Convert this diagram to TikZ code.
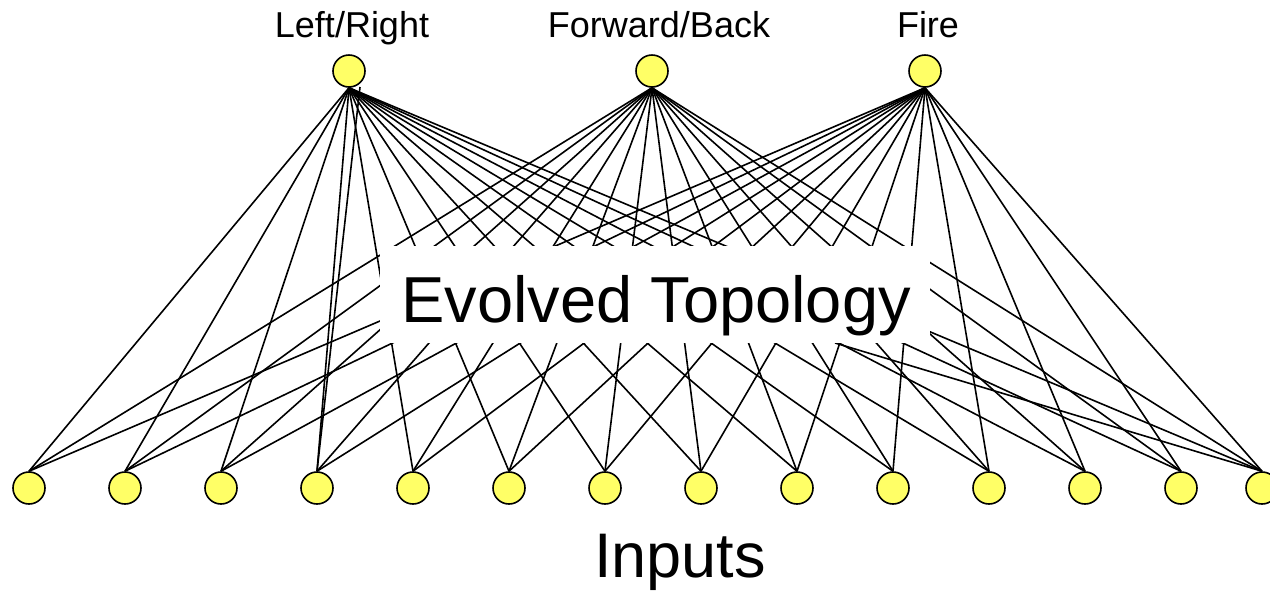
\documentclass[tikz,border=0pt]{standalone}
\usepackage{fontspec}
\setmainfont{Liberation Sans}
\pgfdeclarelayer{bg}
\pgfdeclarelayer{mid}
\pgfsetlayers{bg,mid,main}
\definecolor{nodeyellow}{HTML}{FFFF66}
\begin{document}
\begin{tikzpicture}[x=1pt,y=-1pt,
  neuron/.style={circle,draw=black,line width=1.6pt,fill=nodeyellow,minimum size=32pt,inner sep=0pt},
  link/.style={line width=1.6pt,black},
  toplabel/.style={anchor=base,font=\fontsize{36}{40}\selectfont,inner sep=0pt},
  biglabel/.style={anchor=base,font=\fontsize{65}{70}\selectfont,inner sep=0pt}]
\useasboundingbox (0,0) rectangle (1270,590);
% output nodes
\node[neuron] (o1) at (349,71) {};
\node[neuron] (o2) at (652,71) {};
\node[neuron] (o3) at (925,71) {};
\node[toplabel] (l1) at (352,37) {Left/Right};
\node[toplabel] (l2) at (659,37) {Forward/Back};
\node[toplabel] (l3) at (928,37) {Fire};
% input nodes
\foreach \i in {0,...,12} {
  \node[neuron] (b\i) at ({29+96*\i},488) {};
}
\node[neuron] (b13) at (1262,488) {};
% connections
\begin{pgfonlayer}{bg}
\foreach \t in {o1,o2,o3} {
  \foreach \i in {0,...,13} {
    \draw[link] (\t.south) -- (b\i.north);
  }
}
\coordinate (h1) at (835,343);
\coordinate (h2) at (360,87);
\draw[link] (h1) -- (b13.north);
\draw[link] (h2) -- (b3.north);
\end{pgfonlayer}
% cover box
\begin{pgfonlayer}{mid}
\fill[white] (380,246) rectangle (930,343);
\end{pgfonlayer}
\node[biglabel] (evo) at (656,322) {Evolved Topology};
\node[biglabel,font=\fontsize{63}{70}\selectfont] (inp) at (680,577) {Inputs};
\end{tikzpicture}
\end{document}
